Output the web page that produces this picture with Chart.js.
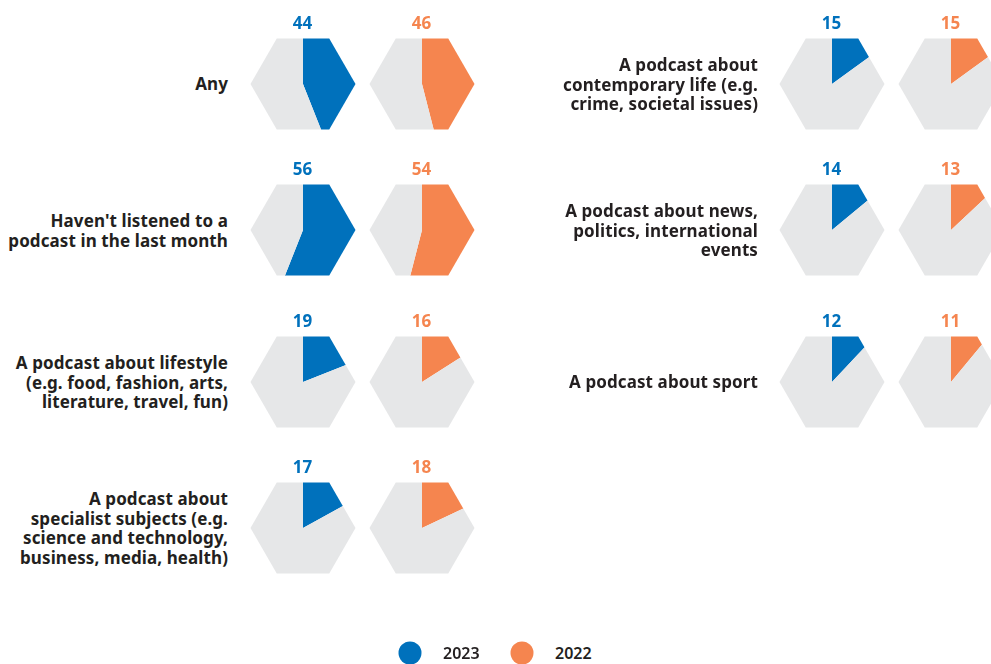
<!DOCTYPE html>
<html>
<head>
<meta charset="utf-8">
<script src="https://cdn.jsdelivr.net/npm/chart.js"></script>
<style>
  html, body { margin: 0; padding: 0; background: #fff; overflow: hidden; }
  body { width: 991px; height: 664px; position: relative; font-family: "Noto Sans", "Open Sans", sans-serif; color: #231f20; }
  .cat { position: absolute; width: 280px; text-align: right; font-weight: 700; font-size: 17px; line-height: 19.5px; letter-spacing: 0.1px; transform: translateY(-50%); white-space: pre-line; }
  .num { position: absolute; width: 60px; text-align: center; font-weight: 700; font-size: 17px; transform: translate(-50%, -50%); }
  .hex { position: absolute; }
  .dot { position: absolute; width: 23px; height: 23px; border-radius: 50%; transform: translate(-50%, -50%); }
  .ltxt { position: absolute; transform: translateY(-50%); font-size: 16px; font-weight: 600; }
</style>
</head>
<body>
<script>
// Data
const categories = [
  "Any",
  "Haven't listened to a\npodcast in the last month",
  "A podcast about lifestyle\n(e.g. food, fashion, arts,\nliterature, travel, fun)",
  "A podcast about\nspecialist subjects (e.g.\nscience and technology,\nbusiness, media, health)",
  "A podcast about\ncontemporary life (e.g.\ncrime, societal issues)",
  "A podcast about news,\npolitics, international\nevents",
  "A podcast about sport"
];
const values2023 = [44, 56, 19, 17, 15, 14, 12];
const values2022 = [46, 54, 16, 18, 15, 13, 11];
const seriesLabels = ["2023", "2022"];

const BLUE = "#0071bc";
const ORANGE = "#f5854f";
const GREY = "#e6e7e8";

// layout
const rowY = [84, 230, 382, 528];
const columns = [
  { labelRight: 228, hexX: [302.5, 421.5] },
  { labelRight: 758, hexX: [831.5, 950.5] }
];
const HEX_R = 52.5;
const CANVAS = 120;

// clip pie to a flat-top hexagon
const hexClip = {
  id: 'hexClip',
  beforeDatasetsDraw(chart) {
    const ctx = chart.ctx;
    const a = chart.chartArea;
    const cx = (a.left + a.right) / 2, cy = (a.top + a.bottom) / 2;
    ctx.save();
    ctx.beginPath();
    for (let i = 0; i < 6; i++) {
      const ang = Math.PI / 3 * i;
      const x = cx + HEX_R * Math.cos(ang), y = cy + HEX_R * Math.sin(ang);
      if (i === 0) ctx.moveTo(x, y); else ctx.lineTo(x, y);
    }
    ctx.closePath();
    ctx.clip();
  },
  afterDatasetsDraw(chart) {
    chart.ctx.restore();
  }
};

function addText(cls, text, x, y, color) {
  const d = document.createElement('div');
  d.className = cls;
  d.textContent = text;
  d.style.left = x + 'px';
  d.style.top = y + 'px';
  if (color) d.style.color = color;
  document.body.appendChild(d);
  return d;
}

function drawHex(value, color, cx, cy) {
  const c = document.createElement('canvas');
  c.className = 'hex';
  c.width = CANVAS; c.height = CANVAS;
  c.style.left = (cx - CANVAS / 2) + 'px';
  c.style.top = (cy - CANVAS / 2) + 'px';
  document.body.appendChild(c);
  new Chart(c, {
    type: 'pie',
    data: {
      datasets: [{
        data: [value, 100 - value],
        backgroundColor: [color, GREY],
        borderWidth: 0
      }]
    },
    options: {
      responsive: false,
      animation: false,
      radius: 60,
      events: [],
      layout: { padding: 0 },
      plugins: { legend: { display: false }, tooltip: { enabled: false } }
    },
    plugins: [hexClip]
  });
  addText('num', value, cx, cy - 62, color);
}

categories.forEach((cat, i) => {
  const col = i < 4 ? columns[0] : columns[1];
  const y = i < 4 ? rowY[i] : rowY[i - 4];
  addText('cat', cat, col.labelRight - 280, y);
  drawHex(values2023[i], BLUE, col.hexX[0], y);
  drawHex(values2022[i], ORANGE, col.hexX[1], y);
});

// legend
const legendItems = [
  { x: 410, color: BLUE, label: seriesLabels[0] },
  { x: 522, color: ORANGE, label: seriesLabels[1] }
];
legendItems.forEach(it => {
  const d = addText('dot', '', it.x, 653);
  d.style.background = it.color;
  addText('ltxt', it.label, it.x + 33, 653);
});
</script>
</body>
</html>
